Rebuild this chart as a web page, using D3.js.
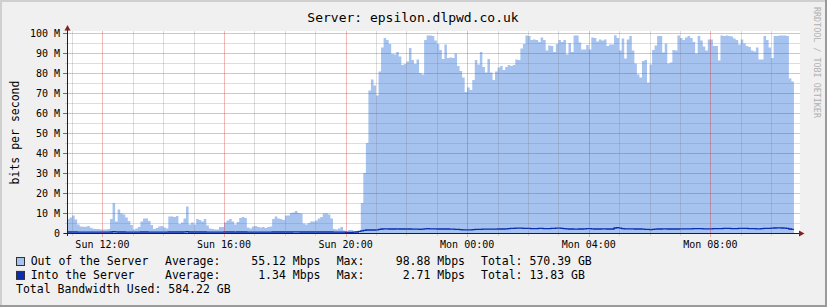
<!DOCTYPE html>
<html><head><meta charset="utf-8">
<script src="https://cdn.jsdelivr.net/npm/d3@7"></script>
<style>html,body{margin:0;padding:0;background:#f0f0f0;} svg{display:block;}</style>
</head><body><svg id="c" width="827" height="307"></svg>
<script>
const title = "Server: epsilon.dlpwd.co.uk";
const yLabel = "bits per second";
const watermark = "RRDTOOL / TOBI OETIKER";
const startTime = new Date(2010, 0, 3, 10, 50);   // Sunday
const stepMinutes = 5;
const spanMinutes = 1447;
const yMajorTicks = [0, 10, 20, 30, 40, 50, 60, 70, 80, 90, 100];
const yMinorTicks = [5, 15, 25, 35, 45, 55, 65, 75, 85, 95];

// Out of the Server (Mbps), 5-minute steps
const outValues = [
 7.0, 7.8, 8.7, 6.8, 4.3, 3.2, 3.1, 3.1, 3.5, 2.6, 2.1, 2.0,
 2.0, 1.8, 1.8, 1.8, 2.0, 7.0, 15.0, 5.7, 11.7, 9.8, 9.3, 7.7,
 6.0, 4.0, 1.7, 2.3, 3.0, 5.7, 7.3, 7.3, 6.0, 4.0, 2.0, 2.5,
 3.2, 3.5, 2.8, 2.2, 8.3, 8.2, 8.0, 8.5, 4.5, 5.3, 7.3, 13.3,
 4.3, 5.3, 4.3, 7.0, 6.5, 5.7, 7.0, 3.7, 2.3, 2.0, 1.7, 1.7,
 3.0, 3.0, 5.3, 6.2, 7.0, 5.8, 4.3, 5.5, 7.5, 8.0, 7.5, 2.8,
 2.3, 3.2, 3.5, 3.0, 2.7, 3.0, 2.5, 3.0, 3.3, 7.0, 8.3, 7.2,
 7.0, 6.5, 8.7, 8.7, 10.0, 10.3, 11.0, 10.0, 9.7, 4.8, 4.3, 5.0,
 5.7, 5.7, 6.3, 7.3, 8.0, 9.7, 9.7, 9.3, 7.3, 2.0, 1.7, 2.3,
 3.0, 1.3, 1.0, 1.5, 1.5, 1.0, 1.0, 1.0, 15.0, 30.0, 45.0, 71.2,
 76.8, 73.7, 68.7, 80.7, 92.8, 97.5, 96.5, 94.5, 89.5, 89.2, 90.5, 88.2,
 84.0, 84.5, 85.7, 92.5, 86.5, 84.5, 86.8, 80.0, 79.3, 96.5, 98.7, 98.7,
 98.5, 96.2, 94.5, 91.5, 87.0, 94.2, 87.5, 87.7, 87.5, 89.8, 83.5, 81.0,
 77.8, 70.5, 72.8, 71.5, 76.5, 86.5, 84.3, 90.5, 83.0, 80.2, 87.0, 80.2,
 76.5, 80.7, 82.8, 83.5, 81.5, 83.0, 84.0, 83.5, 84.0, 86.8, 86.5, 92.2,
 94.5, 98.7, 98.5, 96.5, 96.8, 96.5, 95.5, 97.8, 96.5, 91.2, 93.8, 93.5,
 90.5, 94.5, 96.5, 95.5, 96.5, 89.2, 95.0, 90.5, 98.8, 98.8, 95.2, 91.8,
 91.8, 94.0, 91.8, 97.8, 97.5, 95.8, 96.8, 96.2, 96.8, 93.5, 94.2, 94.2,
 98.88, 97.5, 91.2, 97.2, 87.2, 96.8, 98.5, 91.2, 84.8, 79.3, 77.8, 86.0,
 86.5, 75.2, 84.2, 91.5, 93.8, 98.5, 98.5, 90.2, 94.8, 84.8, 85.3, 91.5,
 91.2, 98.8, 97.5, 96.5, 97.8, 98.5, 97.5, 95.5, 89.8, 98.5, 96.2, 93.2,
 91.2, 96.8, 96.8, 93.5, 93.5, 86.2, 98.8, 98.5, 98.8, 98.5, 98.2, 97.2,
 96.5, 94.2, 96.8, 94.8, 93.5, 93.0, 91.2, 90.8, 92.8, 86.8, 86.8, 98.5,
 96.5, 92.8, 87.5, 98.5, 98.5, 98.8, 98.8, 98.8, 98.5, 77.2, 75.7
];

// Into the Server (Mbps), 5-minute steps
const intoValues = [
 0.5,0.5,0.5,0.5,0.4,0.4,0.4,0.4,0.4,0.4,0.4,0.4,
 0.4,0.4,0.4,0.4,0.4,0.5,0.7,0.6,0.5,0.5,0.5,0.4,
 0.4,0.4,0.4,0.4,0.4,0.5,0.5,0.5,0.4,0.4,0.4,0.4,
 0.4,0.4,0.4,0.4,0.5,0.5,0.5,0.5,0.5,0.5,0.6,0.7,
 0.5,0.5,0.5,0.5,0.5,0.5,0.5,0.4,0.4,0.4,0.4,0.4,
 0.4,0.4,0.5,0.5,0.5,0.5,0.4,0.5,0.5,0.5,0.5,0.4,
 0.4,0.4,0.4,0.4,0.4,0.4,0.4,0.4,0.4,0.5,0.5,0.5,
 0.5,0.5,0.5,0.5,0.5,0.6,0.6,0.6,0.5,0.5,0.5,0.5,
 0.5,0.5,0.5,0.5,0.5,0.5,0.5,0.5,0.5,0.4,0.4,0.4,
 0.4,0.4,0.3,0.3,0.3,0.4,0.5,0.8,1.1,1.3,1.5,1.5,
 1.5,1.5,1.6,1.8,2.0,2.1,2.1,2.0,2.0,2.0,2.1,2.0,
 2.0,2.0,2.0,2.0,1.9,1.9,1.9,1.8,1.9,2.1,2.2,2.1,
 2.1,2.1,2.0,2.0,2.0,2.0,2.0,1.9,1.9,1.8,1.8,1.7,
 1.6,1.6,1.6,1.6,1.7,1.8,1.8,1.8,1.9,1.9,1.9,1.9,
 1.9,1.9,2.0,2.0,2.0,2.1,2.2,2.3,2.3,2.4,2.4,2.4,
 2.3,2.3,2.3,2.2,2.2,2.2,2.3,2.3,2.2,2.2,2.2,2.3,
 2.3,2.4,2.4,2.3,2.2,2.1,2.0,2.0,1.9,1.9,2.0,2.0,
 2.1,2.2,2.2,2.1,2.0,2.0,2.0,2.1,2.1,2.0,2.0,2.0,
 2.5,2.71,2.4,2.2,2.1,2.1,2.1,2.1,2.0,2.0,2.0,1.9,
 1.8,1.8,1.7,1.8,1.9,2.0,2.0,2.1,2.1,2.0,2.0,2.0,
 2.0,2.0,2.1,2.1,2.1,2.1,2.1,2.2,2.2,2.2,2.2,2.1,
 2.1,2.1,2.1,2.2,2.2,2.2,2.2,2.3,2.3,2.3,2.2,2.2,
 2.2,2.3,2.3,2.3,2.3,2.2,2.2,2.2,2.1,2.1,2.2,2.3,
 2.3,2.3,2.4,2.5,2.6,2.6,2.5,2.4,2.3,2.0,1.8
];

const seriesNames = ["Out of the Server", "Into the Server"];
const seriesColors = ["#a6c2ef", "#0b2db2"];
const averages = [55.12, 1.34];
const maxima = [98.88, 2.71];
const totals = [570.39, 13.83];
const totalUsed = 584.22;

const mono = "'DejaVu Sans Mono', monospace";
const svg = d3.select("#c");
const W = 827, H = 307;

// background and 3D border
svg.append("rect").attr("width", W).attr("height", H).attr("fill", "#f0f0f0");
svg.append("path").attr("d", `M0,0H${W}V2H2V${H}H0Z`).attr("fill", "#cfcfcf");
svg.append("path").attr("d", `M${W},${H}H0V${H-2}H${W-2}V0H${W}Z`).attr("fill", "#9a9a9a");

const x = d3.scaleTime()
  .domain([startTime, d3.timeMinute.offset(startTime, spanMinutes)])
  .range([67, 800]);
const y = d3.scaleLinear().domain([0, 100]).range([233, 33]);

// canvas
svg.append("rect").attr("x", 67).attr("y", 31).attr("width", 733).attr("height", 202).attr("fill", "#ffffff");

// data
const mk = vals => {
  const pts = vals.map((v, i) => ({t: d3.timeMinute.offset(startTime, i * stepMinutes), v}));
  pts.push({t: d3.timeMinute.offset(startTime, vals.length * stepMinutes), v: vals[vals.length - 1]});
  return pts;
};
const outPts = mk(outValues), intoPts = mk(intoValues);

svg.append("path").datum(outPts)
  .attr("fill", seriesColors[0])
  .attr("d", d3.area().x(d => x(d.t)).y0(y(0) + 0.5).y1(d => y(d.v)).curve(d3.curveStepAfter));

svg.append("path").datum(intoPts)
  .attr("fill", "none").attr("stroke", seriesColors[1]).attr("stroke-width", 1.3)
  .attr("d", d3.line().x(d => x(d.t)).y(d => y(d.v)).curve(d3.curveStepAfter));

// grid
const minorCol = "rgba(120,120,120,0.25)";
const majorCol = "rgba(220,40,40,0.33)";
const hours = x.ticks(d3.timeHour.every(1));
const majors = x.ticks(d3.timeHour.every(4));
const majSet = new Set(majors.map(d => +d));
const g = svg.append("g");
hours.filter(d => !majSet.has(+d)).forEach(d => {
  const px = Math.round(x(d)) + 0.5;
  g.append("line").attr("x1", px).attr("x2", px).attr("y1", 31).attr("y2", 236).attr("stroke", minorCol);
});
majors.forEach(d => {
  const px = Math.round(x(d)) + 0.5;
  g.append("line").attr("x1", px).attr("x2", px).attr("y1", 31).attr("y2", 237).attr("stroke", majorCol);
});
yMinorTicks.forEach(v => {
  const py = Math.round(y(v)) + 0.5;
  g.append("line").attr("x1", 65).attr("x2", 800).attr("y1", py).attr("y2", py).attr("stroke", minorCol);
});
yMajorTicks.filter(v => v > 0).forEach(v => {
  const py = Math.round(y(v)) + 0.5;
  g.append("line").attr("x1", 67).attr("x2", 800).attr("y1", py).attr("y2", py).attr("stroke", majorCol);
});
yMajorTicks.forEach(v => {
  const py = Math.round(y(v)) + 0.5;
  g.append("line").attr("x1", 63).attr("x2", 67).attr("y1", py).attr("y2", py).attr("stroke", "#707070");
});

// axes
svg.append("line").attr("x1", 67.5).attr("x2", 67.5).attr("y1", 236).attr("y2", 29).attr("stroke", "#202020");
svg.append("line").attr("x1", 64).attr("x2", 801).attr("y1", 233.5).attr("y2", 233.5).attr("stroke", "#202020");
svg.append("path").attr("d", "M64.5,30.5L67.5,25L70.5,30.5Z").attr("fill", "#802020");
svg.append("path").attr("d", "M799,230.5L804.5,233.5L799,236.5Z").attr("fill", "#802020");

// y labels
yMajorTicks.forEach(v => {
  svg.append("text").attr("x", 60).attr("y", Math.round(y(v)) + 4)
    .attr("text-anchor", "end").attr("font-family", mono).attr("font-size", "10px").attr("fill", "#000")
    .text(v === 0 ? "0" : v + " M");
});
// x labels
const fmt = d3.timeFormat("%a %H:%M");
majors.forEach(d => {
  svg.append("text").attr("x", x(d)).attr("y", 248)
    .attr("text-anchor", "middle").attr("font-family", mono).attr("font-size", "10px").attr("fill", "#000")
    .text(fmt(d));
});

// title
svg.append("text").attr("x", 413).attr("y", 21.5).attr("text-anchor", "middle")
  .attr("font-family", mono).attr("font-size", "13px").attr("fill", "#000").text(title);
// y axis title
svg.append("text").attr("transform", "translate(19,132.5) rotate(-90)").attr("text-anchor", "middle")
  .attr("font-family", mono).attr("font-size", "11.5px").attr("fill", "#000").text(yLabel);
// watermark
svg.append("text").attr("transform", "translate(814,62.5) rotate(90)").attr("text-anchor", "middle")
  .attr("font-family", mono).attr("font-size", "8.4px").attr("fill", "#b0b0b0").text(watermark);

// legend
const lf = "11.5px";
const rowsY = [265.3, 279.2];
seriesNames.forEach((name, i) => {
  const by = rowsY[i];
  svg.append("rect").attr("x", 16.5).attr("y", by - 7.8).attr("width", 8).attr("height", 8)
    .attr("fill", seriesColors[i]).attr("stroke", "#303030");
  const t = (xx, txt, anchor) => svg.append("text").attr("x", xx).attr("y", by)
    .attr("text-anchor", anchor || "start").attr("font-family", mono).attr("font-size", lf)
    .attr("fill", "#000").attr("xml:space", "preserve").text(txt);
  t(30.7, name);
  t(165, "Average:");
  t(320.5, averages[i].toFixed(2) + " Mbps", "end");
  t(336.7, "Max:");
  t(465, maxima[i].toFixed(2) + " Mbps", "end");
  t(481, "Total: " + totals[i].toFixed(2) + " GB");
});
svg.append("text").attr("x", 16).attr("y", 293.3).attr("font-family", mono).attr("font-size", lf)
  .attr("fill", "#000").text("Total Bandwidth Used: " + totalUsed.toFixed(2) + " GB");
</script></body></html>
